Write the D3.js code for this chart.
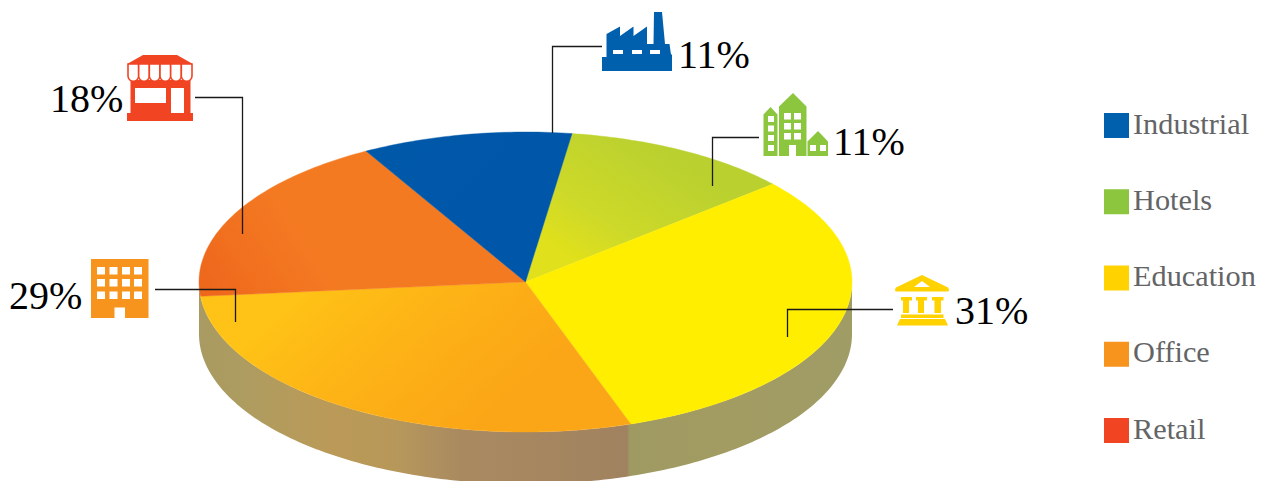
<!DOCTYPE html>
<html><head><meta charset="utf-8">
<script src="https://cdn.jsdelivr.net/npm/d3@7"></script>
<style>
html,body{margin:0;padding:0;background:#fff;overflow:hidden}
svg{display:block}
text{font-family:"Liberation Serif","Times New Roman",serif}
</style></head><body>
<svg id="c" width="1265" height="481"></svg>
<script>
// Data (pie order clockwise, starting from the Hotels slice)
const categories = ["Hotels","Education","Office","Retail","Industrial"];
const labelPercents = [11,31,29,18,11];            // printed labels
const sliceShares = [11.4,31.1,28.7,18.4,10.4];    // slice sizes as measured on the picture
const legendOrder = ["Industrial","Hotels","Education","Office","Retail"];
const colors = {Industrial:"#0060ae",Hotels:"#8cc63f",Education:"#ffd200",Office:"#f7941d",Retail:"#f04423"};

const cx=525.5,cy=282,rx=326.5,ry=150,depth=52;
const startDeg=8.2;
const svg=d3.select("#c");
const defs=svg.append("defs");
function grad(id,x1,y1,x2,y2,stops){
  const g=defs.append("linearGradient").attr("id",id).attr("gradientUnits","userSpaceOnUse")
    .attr("x1",x1).attr("y1",y1).attr("x2",x2).attr("y2",y2);
  stops.forEach(s=>g.append("stop").attr("offset",s[0]).attr("stop-color",s[1]));
}
grad("gHotels",560,250,640,130,[[0,"#e0e01c"],[.35,"#cdd92a"],[1,"#b9d02f"]]);
grad("gEducation",600,200,800,400,[[0,"#ffee00"],[1,"#ffee00"]]);
grad("gOffice",330,270,470,430,[[0,"#ffc215"],[.45,"#fdb314"],[1,"#fba617"]]);
grad("gRetail",205,290,300,230,[[0,"#ee671f"],[1,"#f47a20"]]);
grad("gIndustrial",400,140,540,280,[[0,"#0058a8"],[1,"#0056a8"]]);
grad("wall",199,0,852,0,[[0,"#a89a62"],[.06,"#ad9c60"],[.2,"#bb9a58"],[.3,"#b7985a"],[.4,"#a98a60"],[.655,"#a08260"],[.66,"#9f9a62"],[.8,"#a29c62"],[1,"#a09c66"]]);

const pie=d3.pie().sort(null).value(d=>d.v)
  .startAngle(startDeg*Math.PI/180).endAngle((startDeg+360)*Math.PI/180);
const slices=pie(categories.map((c,i)=>({c,v:sliceShares[i]})));

const blur=defs.append("filter").attr("id","soft").attr("x","-5%").attr("y","-5%").attr("width","110%").attr("height","110%");
blur.append("feGaussianBlur").attr("stdDeviation",0.6);
const pieG=svg.append("g").attr("filter","url(#soft)");

// side wall: visible front half of the rim
const px=a=>cx+rx*Math.sin(a), py=a=>cy-ry*Math.cos(a);
const frontA=d3.range(90,270.01,1).map(d=>d*Math.PI/180);
const wallArea=d3.area().x(px).y0(py).y1(a=>py(a)+depth);
pieG.append("path").attr("d",wallArea(frontA)).attr("fill","url(#wall)");

// top face
const sliceLine=d3.line();
const face=pieG.append("g");
face.selectAll("path").data(slices).join("path")
  .attr("d",d=>{
    const n=Math.ceil((d.endAngle-d.startAngle)*180/Math.PI);
    const pts=d3.range(n+1).map(i=>d.startAngle+(d.endAngle-d.startAngle)*i/n);
    return sliceLine([[cx,cy],...pts.map(a=>[px(a),py(a)])])+"Z";
  })
  .attr("fill",d=>`url(#g${d.data.c})`)
  .attr("stroke",d=>`url(#g${d.data.c})`).attr("stroke-width",0.4);

// leaders
const leaders=[
 [[602,46.5],[552.5,46.5],[552.5,133]],
 [[759,137.5],[712.5,137.5],[712.5,186]],
 [[893,309.5],[787.5,309.5],[787.5,337]],
 [[155,289.5],[235.5,289.5],[235.5,322]],
 [[195,97.5],[242.5,97.5],[242.5,234]]];
const line=d3.line();
svg.selectAll("path.leader").data(leaders).join("path").attr("class","leader")
  .attr("d",line).attr("fill","none").attr("stroke","#1a1a1a").attr("stroke-width",1.3);

// labels
const labels=[
 {t:labelPercents[4]+"%",x:678,y:68},
 {t:labelPercents[0]+"%",x:833,y:155},
 {t:labelPercents[1]+"%",x:955,y:324},
 {t:labelPercents[3]+"%",x:50,y:112},
 {t:labelPercents[2]+"%",x:9,y:309}];
svg.selectAll("text.lab").data(labels).join("text").attr("class","lab")
  .attr("x",d=>d.x).attr("y",d=>d.y).attr("font-size",40).attr("fill","#000").text(d=>d.t);

// legend
const ly=d3.scalePoint().domain(legendOrder).range([113,418]);
const lg=svg.selectAll("g.leg").data(legendOrder).join("g").attr("class","leg")
  .attr("transform",d=>`translate(1104,${ly(d)})`);
lg.append("rect").attr("width",25).attr("height",25).attr("fill",d=>colors[d]);
lg.append("text").attr("x",29).attr("y",20.5).attr("font-size",30.3).attr("fill","#636466").text(d=>d);

// icons
const ic=svg.append("g");
const W_="#fff";
function poly(c,s){return ic.append("path").attr("d",s).attr("fill",c);}
function rects(c,list){list.forEach(r=>ic.append("rect").attr("x",r[0]).attr("y",r[1]).attr("width",r[2]).attr("height",r[3]).attr("fill",c));}
// factory
poly(colors.Industrial,"M602,71V57H606.5V34L620,26.5V36L633.5,26.5V36L647,26.5V44H653.5L654,12H662L665,44H669.5L671,54.5H672V71Z");
rects(W_,[[613,50,10,4],[632,50,10,4],[650,50,10,4]]);
// hotels
poly(colors.Hotels,"M763.5,156V114.5L770.5,107L777.5,114.5V156Z");
poly(colors.Hotels,"M779,156V106.5L793,93L806.5,106.5V156Z");
poly(colors.Hotels,"M807.5,156V141.5L818,131L828,141.5V156Z");
rects(W_,[[768,116,6,6],[768,125.5,6,6],[768,135,6,6],[768,145,6,6],
 [784,113,7,6.5],[794,113,7,6.5],[784,123,7,6.5],[794,123,7,6.5],[784,133,7,6.5],[794,133,7,6.5],
 [789,145,7,11],[810,145,6,6],[820,145,6,6]]);
// education
poly(colors.Education,"M922,275L948,287.5Q950.5,291.5 947,291.5H897Q893.5,291.5 896,287.5Z");
poly(W_,"M922,281L930,287H914Z");
[[901,903,909,912],[916,918,924,927],[932,934.5,941,943.5]].forEach(c=>{
  poly(colors.Education,`M${c[0]},297H${c[3]}V300.5H${c[2]}V313H${c[1]}V300.5H${c[0]}Z`);
});
rects(colors.Education,[[901,314.5,42.5,3.5]]);
poly(colors.Education,"M900,319H945L948,325.5H897Z");
// office
rects(colors.Office,[[91,259,57.5,59]]);
const ox=[97,109.5,122,134], oy=[267,279,291.5];
oy.forEach(y=>ox.forEach(x=>rects(W_,[[x,y,8,7.5]])));
rects(W_,[[114.5,307.5,10.5,10.5]]);
// retail
poly(colors.Retail,"M143,55H177L192,63.5V66H128V63.5Z");
rects(colors.Retail,[[130.5,80,60,33],[127,113,66,8]]);
rects(W_,[[135,88,31,15],[171,88,13,25]]);
d3.range(6).forEach(i=>{
  const w=(192-128)/6, x=128+i*w;
  poly(W_,`M${x},64V76A${w/2},${w/2} 0 0 0 ${x+w},76V64Z`)
    .attr("stroke",colors.Retail).attr("stroke-width",1.6);
});
</script>
</body></html>
